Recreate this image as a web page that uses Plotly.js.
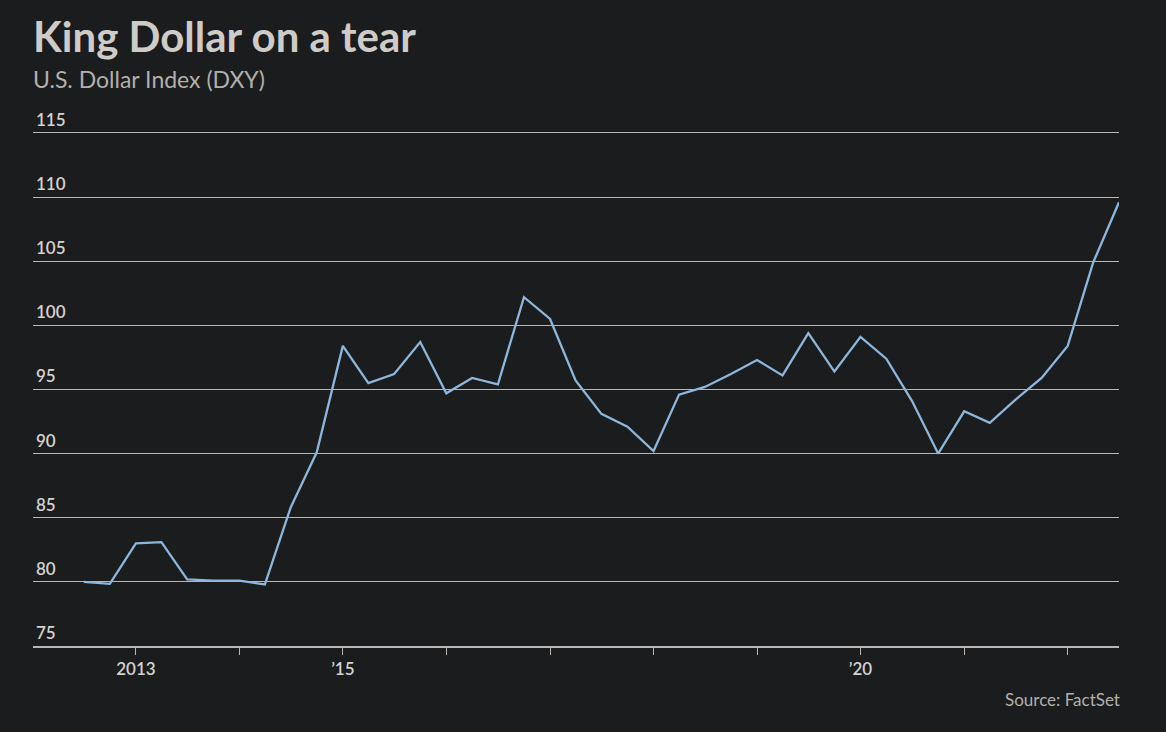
<!DOCTYPE html>
<html>
<head>
<meta charset="utf-8">
<script src="https://cdn.plot.ly/plotly-3.0.1.min.js"></script>
<style>
html,body{margin:0;padding:0;background:#1b1c1e;}
#chart{width:1166px;height:732px;}
</style>
</head>
<body>
<div id="chart"></div>
<script>
// Quarterly DXY values (start of quarter)
const dates = [
  '2012-07-01','2012-10-01','2013-01-01','2013-04-01','2013-07-01','2013-10-01',
  '2014-01-01','2014-04-01','2014-07-01','2014-10-01','2015-01-01','2015-04-01',
  '2015-07-01','2015-10-01','2016-01-01','2016-04-01','2016-07-01','2016-10-01',
  '2017-01-01','2017-04-01','2017-07-01','2017-10-01','2018-01-01','2018-04-01',
  '2018-07-01','2018-10-01','2019-01-01','2019-04-01','2019-07-01','2019-10-01',
  '2020-01-01','2020-04-01','2020-07-01','2020-10-01','2021-01-01','2021-04-01',
  '2021-07-01','2021-10-01','2022-01-01','2022-04-01','2022-07-01'
];
const dxy = [
  80.0, 79.85, 83.0, 83.1, 80.2, 80.1,
  80.1, 79.8, 85.8, 90.1, 98.4, 95.5,
  96.2, 98.7, 94.7, 95.9, 95.4, 102.2,
  100.5, 95.7, 93.1, 92.1, 90.2, 94.6,
  95.2, 96.2, 97.3, 96.1, 99.4, 96.4,
  99.1, 97.4, 94.1, 90.0, 93.3, 92.4,
  94.2, 95.9, 98.4, 104.9, 109.6
];
const xTickVals = ['2013-01-01','2014-01-01','2015-01-01','2016-01-01','2017-01-01','2018-01-01','2019-01-01','2020-01-01','2021-01-01','2022-01-01'];
const xTickText = ['2013','','\u201915','','','','','\u201920','',''];
const yTickVals = [75,80,85,90,95,100,105,110,115];

const textCol = '#d6d2ce';
const gridCol = '#b9b6b3';

const trace = {
  x: dates, y: dxy, type: 'scatter', mode: 'lines',
  line: {color: '#8db6dc', width: 2.3},
  hoverinfo: 'x+y'
};

const layout = {
  width: 1166, height: 732,
  paper_bgcolor: '#1b1c1e', plot_bgcolor: '#1b1c1e',
  margin: {l: 33, r: 47, t: 95, b: 86},
  showlegend: false,
  font: {family: 'Lato, sans-serif', color: textCol},
  xaxis: {
    type: 'date',
    range: ['2012-01-04', '2022-07-01'],
    tickvals: xTickVals, ticktext: xTickText,
    ticks: 'outside', ticklen: 7, tickwidth: 1, tickcolor: gridCol,
    showgrid: false, zeroline: false,
    showline: true, linecolor: gridCol, linewidth: 1.5,
    tickfont: {family: 'Lato, sans-serif', size: 17, color: textCol, weight: 600},
    fixedrange: true
  },
  yaxis: {
    range: [75, 117.96],
    tickvals: yTickVals,
    ticklabelposition: 'inside',
    ticklabelshift: -13,
    ticks: '',
    showgrid: true, gridcolor: gridCol, gridwidth: 1.3,
    zeroline: false, showline: false,
    tickfont: {family: 'Lato, sans-serif', size: 17, color: textCol, weight: 600},
    fixedrange: true
  },
  annotations: [
    {
      text: '<b>King Dollar on a tear</b>',
      xref: 'paper', yref: 'paper', x: 0, y: 1, xanchor: 'left', yanchor: 'bottom',
      xshift: -2, yshift: 32, showarrow: false,
      font: {family: 'Lato, sans-serif', size: 42, color: '#cfcbc7'}
    },
    {
      text: 'U.S. Dollar Index (DXY)',
      xref: 'paper', yref: 'paper', x: 0, y: 1, xanchor: 'left', yanchor: 'bottom',
      xshift: -2, yshift: 0, showarrow: false,
      font: {family: 'Lato, sans-serif', size: 23, color: '#b3afab'}
    },
    {
      text: 'Source: FactSet',
      xref: 'paper', yref: 'paper', x: 1, y: 0, xanchor: 'right', yanchor: 'top',
      xshift: 3, yshift: -41, showarrow: false,
      font: {family: 'Lato, sans-serif', size: 17, color: '#b3afab'}
    }
  ]
};

Plotly.newPlot('chart', [trace], layout, {displayModeBar: false});
</script>
</body>
</html>
